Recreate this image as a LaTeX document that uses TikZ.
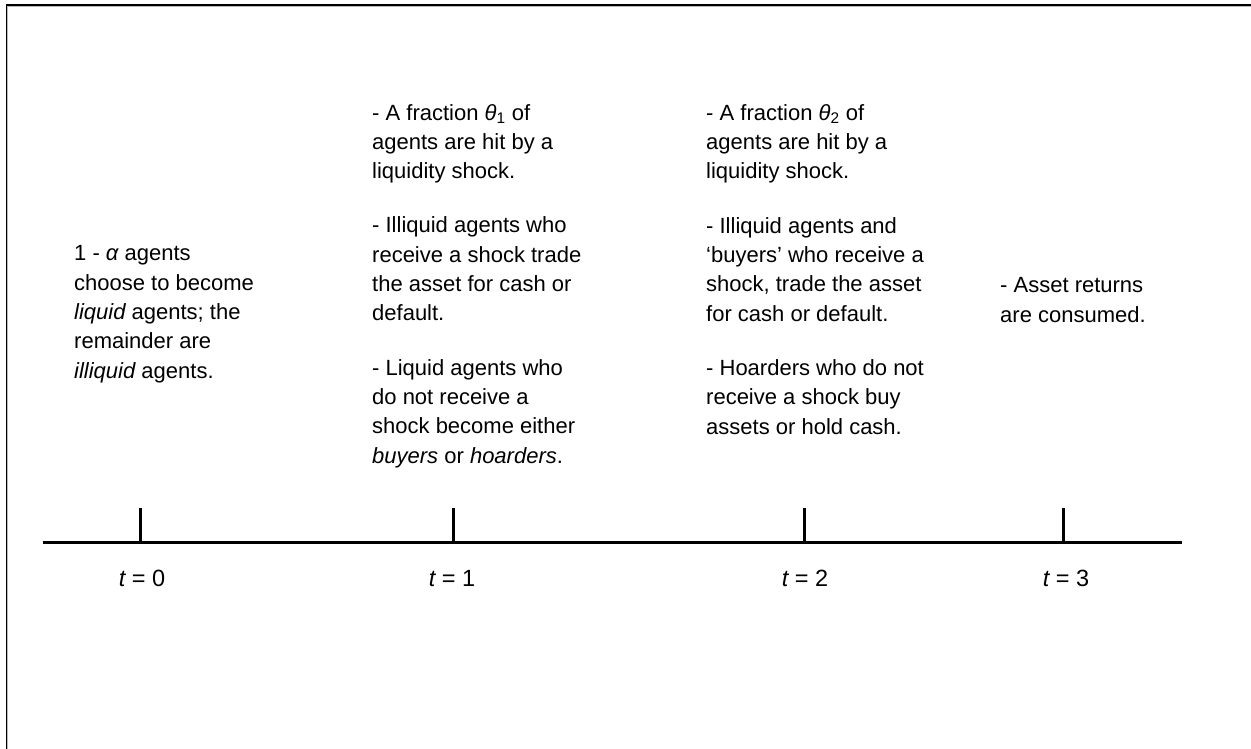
\documentclass[tikz,border=0pt]{standalone}
\usepackage{fontspec}
\setmainfont{Liberation Sans}
\begin{document}
\begin{tikzpicture}[x=1pt,y=-1pt,
  txt/.style={anchor=base west, inner sep=0pt, align=left, font=\fontsize{22}{29.3}\selectfont},
  tlabel/.style={anchor=base, inner sep=0pt, font=\fontsize{23.5}{28}\selectfont},
  axis/.style={line width=3pt},
  tickmark/.style={line width=3pt}]
\useasboundingbox (0,0) rectangle (1251,749);
% frame (top and left edges visible)
\draw[gray!55, line width=0.9pt] (7.8,749) -- (7.8,6.3) -- (1251,6.3);
\draw[line width=1.4pt] (6.5,749) -- (6.5,5) -- (1251,5);
% time axis
\coordinate (L) at (43,542);
\coordinate (R) at (1182,542);
\draw[axis] (L) -- (R);
\coordinate (k0) at (140,542); \coordinate (k0t) at (140,508);
\coordinate (k1) at (453,542); \coordinate (k1t) at (453,508);
\coordinate (k2) at (804,542); \coordinate (k2t) at (804,508);
\coordinate (k3) at (1063,542); \coordinate (k3t) at (1063,508);
\draw[tickmark] (k0) -- (k0t);
\draw[tickmark] (k1) -- (k1t);
\draw[tickmark] (k2) -- (k2t);
\draw[tickmark] (k3) -- (k3t);
% time labels
\node[tlabel] (l0) at (142,586) {{\itshape t} = 0};
\node[tlabel] (l1) at (452,586) {{\itshape t} = 1};
\node[tlabel] (l2) at (805,586) {{\itshape t} = 2};
\node[tlabel] (l3) at (1066,586) {{\itshape t} = 3};
% text blocks (anchored at the baseline of their last line)
\node[txt] (b0) at (74,378) {1 - {\itshape α} agents\\
choose to become\\
{\itshape liquid} agents; the\\
remainder are\\
{\itshape illiquid} agents.};
\node[txt] (b1) at (372,463) {- A fraction {\itshape θ}\textsubscript{1} of\\
agents are hit by a\\
liquidity shock.\\[25pt]
- Illiquid agents who\\
receive a shock trade\\
the asset for cash or\\
default.\\[25pt]
- Liquid agents who\\
do not receive a\\
shock become either\\
{\itshape buyers} or {\itshape hoarders}.};
\node[txt] (b2) at (706,434) {- A fraction {\itshape θ}\textsubscript{2} of\\
agents are hit by a\\
liquidity shock.\\[25pt]
- Illiquid agents and\\
‘buyers’ who receive a\\
shock, trade the asset\\
for cash or default.\\[25pt]
- Hoarders who do not\\
receive a shock buy\\
assets or hold cash.};
\node[txt] (b3) at (1000,322) {- Asset returns\\
are consumed.};
\end{tikzpicture}
\end{document}
